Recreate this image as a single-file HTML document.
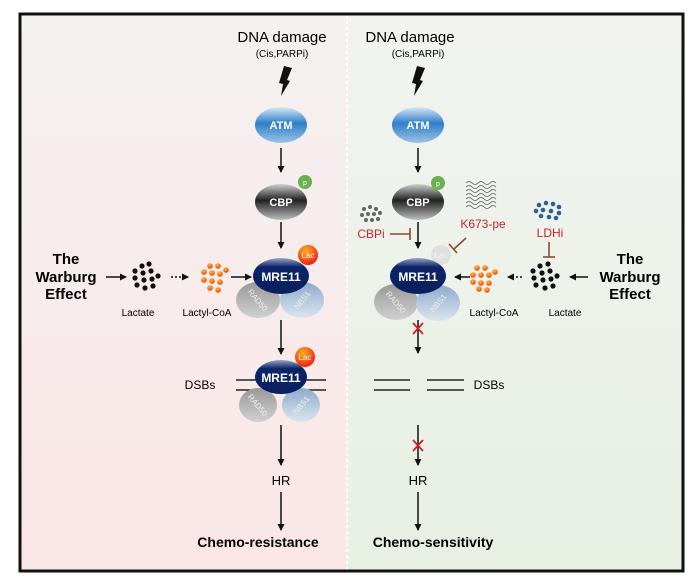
<!DOCTYPE html>
<html><head><meta charset="utf-8"><style>
html,body{margin:0;padding:0;background:#fff;}
svg{display:block;font-family:"Liberation Sans",Arial,sans-serif;}
</style></head><body>
<svg width="693" height="586" viewBox="0 0 693 586" xmlns="http://www.w3.org/2000/svg">
<defs>
<linearGradient id="pink" x1="0" y1="0" x2="0" y2="1"><stop offset="0" stop-color="#f4f1f1"/><stop offset="1" stop-color="#fbe6e6"/></linearGradient>
<linearGradient id="green" x1="0" y1="0" x2="0" y2="1"><stop offset="0" stop-color="#f2f3f1"/><stop offset="1" stop-color="#e7f0e2"/></linearGradient>
<linearGradient id="atm" x1="0" y1="0" x2="0" y2="1"><stop offset="0" stop-color="#d8e8f5"/><stop offset="0.45" stop-color="#2f7fc8"/><stop offset="1" stop-color="#9cc4e8"/></linearGradient>
<linearGradient id="cbp" x1="0" y1="0" x2="0" y2="1"><stop offset="0" stop-color="#cfcfcf"/><stop offset="0.45" stop-color="#222"/><stop offset="1" stop-color="#bdbdbd"/></linearGradient>
<linearGradient id="mre" x1="0" y1="0" x2="0" y2="1"><stop offset="0" stop-color="#9aa4c4"/><stop offset="0.25" stop-color="#0c2468"/><stop offset="1" stop-color="#0a1f5e"/></linearGradient>
<linearGradient id="rad" x1="0" y1="0" x2="0" y2="1"><stop offset="0" stop-color="#999"/><stop offset="1" stop-color="#d0d0d0"/></linearGradient>
<linearGradient id="nbs" x1="0" y1="0" x2="0" y2="1"><stop offset="0" stop-color="#8faacb"/><stop offset="1" stop-color="#dbe5ef"/></linearGradient>
<radialGradient id="lac" cx="0.4" cy="0.3" r="0.7"><stop offset="0" stop-color="#ffb020"/><stop offset="1" stop-color="#f02010"/></radialGradient>
<radialGradient id="od" cx="0.4" cy="0.3" r="0.7"><stop offset="0" stop-color="#ffc030"/><stop offset="1" stop-color="#f04010"/></radialGradient>
<marker id="ar" markerWidth="8" markerHeight="8" refX="6" refY="4" orient="auto" markerUnits="userSpaceOnUse"><path d="M0,0.5 L7,4 L0,7.5 z" fill="#111"/></marker>
</defs>
<rect x="0" y="0" width="693" height="586" fill="#fff"/>
<rect x="21" y="15" width="327" height="555" fill="url(#pink)"/>
<rect x="348" y="15" width="334" height="555" fill="url(#green)"/>
<line x1="347" y1="15" x2="347" y2="570" stroke="#fff" stroke-width="2" stroke-dasharray="3,3"/>
<rect x="20" y="14" width="663" height="557" fill="none" stroke="#111" stroke-width="3"/>

<g id="L">
<text x="282" y="42" font-size="15" text-anchor="middle">DNA damage</text>
<text x="282" y="57" font-size="10" text-anchor="middle">(Cis,PARPi)</text>
<path d="M284,66 L292,68 L287,80 L290,81 L281,96 L283,84 L279,83 Z" fill="#111"/>
<ellipse cx="281" cy="125" rx="26" ry="18" fill="url(#atm)"/>
<text x="281" y="129" font-size="11" fill="#fff" text-anchor="middle" font-weight="bold">ATM</text>
<line x1="281" y1="148" x2="281" y2="172" stroke="#111" stroke-width="1.5" marker-end="url(#ar)"/>
<ellipse cx="281" cy="202" rx="26" ry="18" fill="url(#cbp)"/>
<text x="281" y="206" font-size="11" fill="#fff" text-anchor="middle" font-weight="bold">CBP</text>
<circle cx="305" cy="182" r="7" fill="#6ab04c"/><text x="305" y="185" font-size="7" fill="#fff" text-anchor="middle">p</text>
<line x1="281" y1="222" x2="281" y2="248" stroke="#111" stroke-width="1.5" marker-end="url(#ar)"/>
<ellipse cx="258" cy="300" rx="22" ry="18" fill="url(#rad)"/>
<ellipse cx="302" cy="300" rx="22" ry="18" fill="url(#nbs)"/>
<text x="258" y="303" font-size="8" fill="#eee" text-anchor="middle" transform="rotate(50 258 300)">RAD50</text>
<text x="302" y="303" font-size="8" fill="#eee" text-anchor="middle" transform="rotate(-50 302 300)">NBS1</text>
<ellipse cx="281" cy="276" rx="28" ry="18" fill="url(#mre)"/>
<text x="281" y="281" font-size="12" fill="#fff" text-anchor="middle" font-weight="bold">MRE11</text>
<circle cx="308" cy="255" r="10" fill="url(#lac)"/><text x="308" y="258" font-size="8" fill="#fff" text-anchor="middle">Lac</text>
<text x="66" y="264" font-size="15" font-weight="bold" text-anchor="middle">The</text>
<text x="66" y="282" font-size="15" font-weight="bold" text-anchor="middle">Warburg</text>
<text x="66" y="299" font-size="15" font-weight="bold" text-anchor="middle">Effect</text>
<line x1="106" y1="277" x2="126" y2="277" stroke="#111" stroke-width="1.5" marker-end="url(#ar)"/>
<g fill="#111"><circle cx="142" cy="266" r="2.6"/><circle cx="149" cy="264" r="2.6"/><circle cx="135" cy="271" r="2.6"/><circle cx="143" cy="273" r="2.6"/><circle cx="151" cy="271" r="2.6"/><circle cx="158" cy="276" r="2.6"/><circle cx="135" cy="278" r="2.6"/><circle cx="144" cy="280" r="2.6"/><circle cx="152" cy="279" r="2.6"/><circle cx="137" cy="285" r="2.6"/><circle cx="145" cy="288" r="2.6"/><circle cx="153" cy="286" r="2.6"/></g>
<line x1="171" y1="277" x2="188" y2="277" stroke="#111" stroke-width="1.5" stroke-dasharray="2,2" marker-end="url(#ar)"/>
<g fill="url(#od)"><circle cx="210" cy="266" r="2.8"/><circle cx="218" cy="266" r="2.8"/><circle cx="204" cy="272" r="2.8"/><circle cx="212" cy="273" r="2.8"/><circle cx="220" cy="274" r="2.8"/><circle cx="226" cy="270" r="2.8"/><circle cx="204" cy="280" r="2.8"/><circle cx="212" cy="281" r="2.8"/><circle cx="220" cy="282" r="2.8"/><circle cx="210" cy="288" r="2.8"/><circle cx="218" cy="290" r="2.8"/></g>
<line x1="231" y1="277" x2="251" y2="277" stroke="#111" stroke-width="1.5" marker-end="url(#ar)"/>
<text x="138" y="316" font-size="10" text-anchor="middle">Lactate</text>
<text x="207" y="316" font-size="10" text-anchor="middle">Lactyl-CoA</text>
<line x1="281" y1="320" x2="281" y2="354" stroke="#111" stroke-width="1.5" marker-end="url(#ar)"/>
<line x1="236" y1="380" x2="326" y2="380" stroke="#222" stroke-width="1.5"/>
<line x1="236" y1="390" x2="326" y2="390" stroke="#222" stroke-width="1.5"/>
<ellipse cx="258" cy="405" rx="19" ry="17" fill="url(#rad)"/>
<ellipse cx="301" cy="405" rx="19" ry="17" fill="url(#nbs)"/>
<text x="258" y="408" font-size="8" fill="#eee" text-anchor="middle" transform="rotate(50 258 405)">RAD50</text>
<text x="301" y="408" font-size="8" fill="#eee" text-anchor="middle" transform="rotate(-50 301 405)">NBS1</text>
<ellipse cx="281" cy="377" rx="26" ry="17" fill="url(#mre)"/>
<text x="281" y="382" font-size="12" fill="#fff" text-anchor="middle" font-weight="bold">MRE11</text>
<circle cx="305" cy="357" r="10" fill="url(#lac)"/><text x="305" y="360" font-size="8" fill="#fff" text-anchor="middle">Lac</text>
<text x="200" y="389" font-size="12" text-anchor="middle">DSBs</text>
<line x1="281" y1="425" x2="281" y2="465" stroke="#111" stroke-width="1.5" marker-end="url(#ar)"/>
<text x="281" y="485" font-size="13" text-anchor="middle">HR</text>
<line x1="281" y1="492" x2="281" y2="530" stroke="#111" stroke-width="1.5" marker-end="url(#ar)"/>
<text x="258" y="547" font-size="14" font-weight="bold" text-anchor="middle">Chemo-resistance</text>
</g>

<g id="R">
<text x="410" y="42" font-size="15" text-anchor="middle">DNA damage</text>
<text x="418" y="57" font-size="10" text-anchor="middle">(Cis,PARPi)</text>
<path d="M417,66 L425,68 L420,80 L423,81 L414,96 L416,84 L412,83 Z" fill="#111"/>
<ellipse cx="418" cy="125" rx="26" ry="18" fill="url(#atm)"/>
<text x="418" y="129" font-size="11" fill="#fff" text-anchor="middle" font-weight="bold">ATM</text>
<line x1="418" y1="148" x2="418" y2="172" stroke="#111" stroke-width="1.5" marker-end="url(#ar)"/>
<ellipse cx="418" cy="202" rx="26" ry="18" fill="url(#cbp)"/>
<text x="418" y="206" font-size="11" fill="#fff" text-anchor="middle" font-weight="bold">CBP</text>
<circle cx="438" cy="183" r="7" fill="#6ab04c"/><text x="438" y="186" font-size="7" fill="#fff" text-anchor="middle">p</text>
<g fill="#666"><circle cx="364" cy="209" r="2"/><circle cx="370" cy="207" r="2"/><circle cx="376" cy="209" r="2"/><circle cx="362" cy="215" r="2"/><circle cx="368" cy="214" r="2"/><circle cx="374" cy="214" r="2"/><circle cx="380" cy="213" r="2"/><circle cx="366" cy="220" r="2"/><circle cx="372" cy="220" r="2"/><circle cx="378" cy="219" r="2"/></g>
<text x="371" y="238" font-size="12" fill="#c0282c" text-anchor="middle">CBPi</text>
<line x1="390" y1="234" x2="410" y2="234" stroke="#8b4a2b" stroke-width="1.6"/>
<line x1="410" y1="228" x2="410" y2="240" stroke="#8b4a2b" stroke-width="1.6"/>
<line x1="418" y1="222" x2="418" y2="248" stroke="#111" stroke-width="1.5" marker-end="url(#ar)"/>
<g fill="none" stroke="#555" stroke-width="0.8">
<path d="M466,183 q3,-3 6,0 t6,0 t6,0 t6,0 t6,0"/><path d="M466,187 q3,-3 6,0 t6,0 t6,0 t6,0 t6,0"/><path d="M466,191 q3,-3 6,0 t6,0 t6,0 t6,0 t6,0"/><path d="M466,195 q3,-3 6,0 t6,0 t6,0 t6,0 t6,0"/><path d="M466,199 q3,-3 6,0 t6,0 t6,0 t6,0 t6,0"/><path d="M466,203 q3,-3 6,0 t6,0 t6,0 t6,0 t6,0"/><path d="M466,207 q3,-3 6,0 t6,0 t6,0 t6,0 t6,0"/></g>
<text x="483" y="228" font-size="12" fill="#c0282c" text-anchor="middle">K673-pe</text>
<line x1="466" y1="238" x2="454" y2="249" stroke="#8b4a2b" stroke-width="1.6"/>
<line x1="449" y1="244" x2="457" y2="253" stroke="#8b4a2b" stroke-width="1.6"/>
<g fill="#2d5f96"><circle cx="539" cy="205" r="2.3"/><circle cx="546" cy="203" r="2.3"/><circle cx="553" cy="204" r="2.3"/><circle cx="559" cy="207" r="2.3"/><circle cx="536" cy="211" r="2.3"/><circle cx="543" cy="210" r="2.3"/><circle cx="551" cy="211" r="2.3"/><circle cx="559" cy="213" r="2.3"/><circle cx="541" cy="216" r="2.3"/><circle cx="549" cy="217" r="2.3"/><circle cx="556" cy="218" r="2.3"/></g>
<text x="550" y="237" font-size="12" fill="#c0282c" text-anchor="middle">LDHi</text>
<line x1="549" y1="242" x2="549" y2="257" stroke="#8b4a2b" stroke-width="1.6"/>
<line x1="543" y1="257" x2="555" y2="257" stroke="#8b4a2b" stroke-width="1.6"/>
<ellipse cx="396" cy="302" rx="22" ry="18" fill="url(#rad)"/>
<ellipse cx="438" cy="303" rx="22" ry="18" fill="url(#nbs)"/>
<text x="396" y="305" font-size="8" fill="#eee" text-anchor="middle" transform="rotate(50 396 302)">RAD50</text>
<text x="438" y="306" font-size="8" fill="#eee" text-anchor="middle" transform="rotate(-50 438 303)">NBS1</text>
<circle cx="441" cy="255" r="10" fill="#e0e0e0"/><text x="441" y="258" font-size="8" fill="#f4f4f4" text-anchor="middle">Lac</text>
<ellipse cx="418" cy="276" rx="28" ry="18" fill="url(#mre)"/>
<text x="418" y="281" font-size="12" fill="#fff" text-anchor="middle" font-weight="bold">MRE11</text>
<line x1="470" y1="277" x2="455" y2="277" stroke="#111" stroke-width="1.5" marker-end="url(#ar)"/>
<g fill="url(#od)"><circle cx="477" cy="268" r="2.8"/><circle cx="485" cy="268" r="2.8"/><circle cx="473" cy="275" r="2.8"/><circle cx="481" cy="275" r="2.8"/><circle cx="489" cy="275" r="2.8"/><circle cx="495" cy="272" r="2.8"/><circle cx="473" cy="282" r="2.8"/><circle cx="481" cy="283" r="2.8"/><circle cx="489" cy="283" r="2.8"/><circle cx="479" cy="289" r="2.8"/><circle cx="487" cy="290" r="2.8"/></g>
<line x1="522" y1="277" x2="508" y2="277" stroke="#111" stroke-width="1.5" stroke-dasharray="2,2" marker-end="url(#ar)"/>
<g fill="#111"><circle cx="540" cy="266" r="2.6"/><circle cx="548" cy="264" r="2.6"/><circle cx="533" cy="271" r="2.6"/><circle cx="542" cy="273" r="2.6"/><circle cx="550" cy="271" r="2.6"/><circle cx="557" cy="276" r="2.6"/><circle cx="534" cy="278" r="2.6"/><circle cx="543" cy="280" r="2.6"/><circle cx="551" cy="279" r="2.6"/><circle cx="536" cy="285" r="2.6"/><circle cx="545" cy="288" r="2.6"/><circle cx="553" cy="286" r="2.6"/></g>
<line x1="588" y1="277" x2="570" y2="277" stroke="#111" stroke-width="1.5" marker-end="url(#ar)"/>
<text x="630" y="264" font-size="15" font-weight="bold" text-anchor="middle">The</text>
<text x="630" y="282" font-size="15" font-weight="bold" text-anchor="middle">Warburg</text>
<text x="630" y="299" font-size="15" font-weight="bold" text-anchor="middle">Effect</text>
<text x="494" y="316" font-size="10" text-anchor="middle">Lactyl-CoA</text>
<text x="565" y="316" font-size="10" text-anchor="middle">Lactate</text>
<line x1="418" y1="320" x2="418" y2="353" stroke="#111" stroke-width="1.5" marker-end="url(#ar)"/>
<path d="M413,323 L423,334 M423,323 L413,334" stroke="#d02020" stroke-width="1.8"/>
<line x1="374" y1="380" x2="410" y2="380" stroke="#222" stroke-width="1.5"/>
<line x1="374" y1="390" x2="410" y2="390" stroke="#222" stroke-width="1.5"/>
<line x1="427" y1="380" x2="464" y2="380" stroke="#222" stroke-width="1.5"/>
<line x1="427" y1="390" x2="464" y2="390" stroke="#222" stroke-width="1.5"/>
<text x="489" y="389" font-size="12" text-anchor="middle">DSBs</text>
<line x1="418" y1="425" x2="418" y2="465" stroke="#111" stroke-width="1.5" marker-end="url(#ar)"/>
<path d="M413,440 L423,451 M423,440 L413,451" stroke="#d02020" stroke-width="1.8"/>
<text x="418" y="485" font-size="13" text-anchor="middle">HR</text>
<line x1="418" y1="492" x2="418" y2="530" stroke="#111" stroke-width="1.5" marker-end="url(#ar)"/>
<text x="433" y="547" font-size="14" font-weight="bold" text-anchor="middle">Chemo-sensitivity</text>
</g>
</svg>
</body></html>
